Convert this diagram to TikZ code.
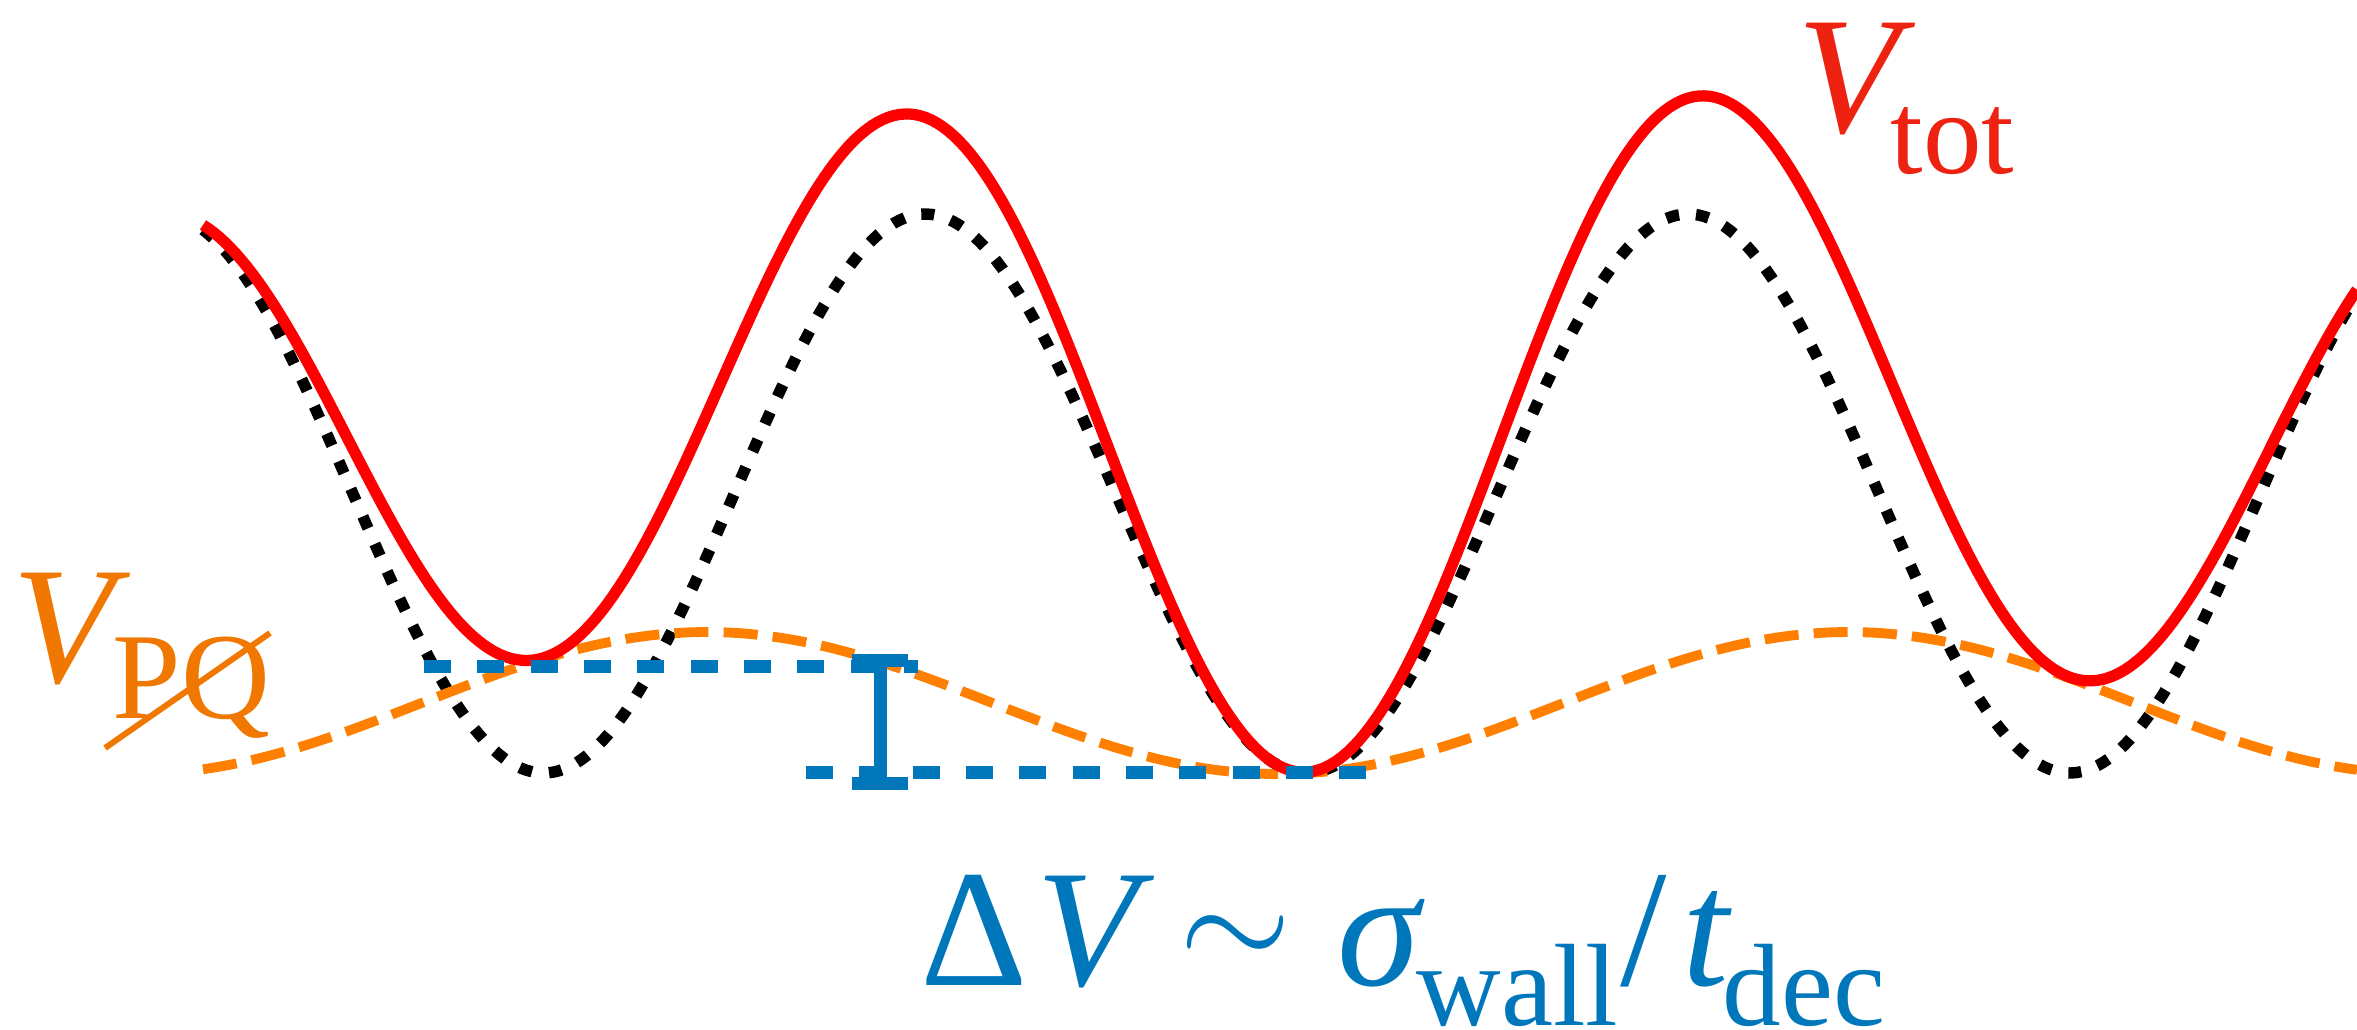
\RequirePackage{fix-cm}
\documentclass[tikz,border=0pt]{standalone}
\usepackage{fontspec}
\setmainfont{Liberation Serif}
\definecolor{curveorange}{HTML}{FF8000}
\definecolor{textorange}{HTML}{F07800}
\definecolor{textred}{HTML}{EE2211}
\definecolor{tolblue}{HTML}{0077BB}
\tikzset{
  totcurve/.style={line width=3.2pt, red},
  barecurve/.style={line width=3.25pt, black, dash pattern=on 3.7pt off 4.85pt},
  pqcurve/.style={line width=2.8pt, curveorange, dash pattern=on 9.7pt off 4.3pt},
  lvl/.style={line width=3.7pt, tolblue, dash pattern=on 7.68pt off 7.48pt},
  ebar/.style={line width=3.7pt, tolblue},
  bigtxt/.style={inner sep=0pt, anchor=base west, font={\fontsize{47.5}{50}\selectfont}},
  smalltxt/.style={inner sep=0pt, anchor=base west, font={\fontsize{33.3}{35}\selectfont}},
}
\begin{document}
\begin{tikzpicture}[x=0.01cm,y=-0.01cm]
\useasboundingbox (0,0) rectangle (2357,1029);
% bare double-well potential (dotted)
\draw[barecurve] plot[domain=203:2357, samples=400] (\x, {493.5+279.5*cos(0.471822*(\x-543.6))});
% PQ-breaking term (dashed)
\draw[pqcurve] plot[domain=203:2357, samples=400] (\x, {703+71*cos(0.315236*(\x-1278))});
% total potential
\draw[totcurve] plot[domain=203:2357, samples=400] (\x, {493.5+279.5*cos(0.471822*(\x-543.6))+703+71*cos(0.315236*(\x-1278))-774});
% level lines
\coordinate (topL) at (424,666);
\coordinate (topR) at (918,666);
\coordinate (botL) at (806,772);
\coordinate (botR) at (1367,772);
\draw[lvl] (topL) -- (topR);
\draw[lvl] (botL) -- (botR);
% error bar
\coordinate (barT) at (880,660);
\coordinate (barB) at (880,783);
\coordinate (capTL) at (852,660);
\coordinate (capTR) at (908,660);
\coordinate (capBL) at (852,783);
\coordinate (capBR) at (908,783);
\draw[ebar] (barT) -- (barB);
\draw[ebar] (capTL) -- (capTR);
\draw[ebar] (capBL) -- (capBR);
% V_tot label
\node[bigtxt, text=textred] (vtotV) at (1797,132) {\itshape V};
\node[smalltxt, text=textred] (vtotS) at (1890,173) {tot};
% V_PQ label
\node[bigtxt, text=textorange] (vpqV) at (12,682) {\itshape V};
\node[smalltxt, text=textorange] (vpqS) at (112,718) {\fontsize{35}{37}\selectfont PQ};
\coordinate (slashA) at (105,748);
\coordinate (slashB) at (270,633);
\draw[textorange, line width=1.7pt] (slashA) -- (slashB);
% Delta V label
\node[bigtxt, text=tolblue] (dD) at (920,985) {Δ};
\node[bigtxt, text=tolblue] (dV) at (1036,985) {\itshape V};
\node[inner sep=0pt, text=tolblue, font={\fontsize{41}{43}\selectfont}] (dsim) at (1236,942) {$\sim$};
\node[bigtxt, text=tolblue] (dsig) at (1337,985) {\itshape σ};
\node[smalltxt, text=tolblue] (dwall) at (1416,1025) {wall};
\node[bigtxt, text=tolblue] (dslash) at (1620,985) {/};
\node[bigtxt, text=tolblue] (dt) at (1682,985) {\itshape t};
\node[smalltxt, text=tolblue] (ddec) at (1722,1025) {dec};
\end{tikzpicture}
\end{document}
